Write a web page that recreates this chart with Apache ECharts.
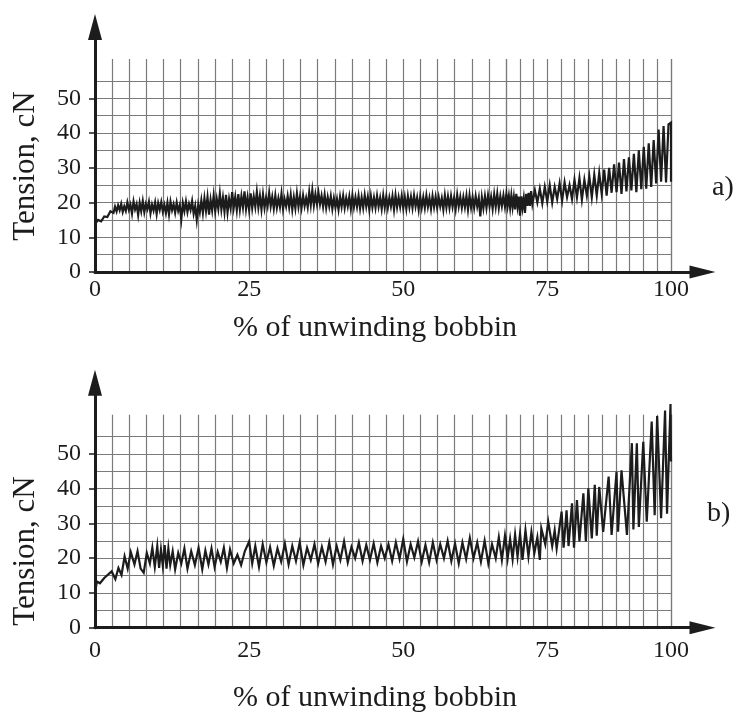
<!DOCTYPE html>
<html><head><meta charset="utf-8">
<script src="https://cdn.jsdelivr.net/npm/echarts@6/dist/echarts.min.js"></script>
<style>html,body{margin:0;padding:0;background:#fff}#c{width:735px;height:715px}</style>
</head><body><div id="c"></div>
<script>
// ---------- data ----------
const xTickLabels = [0, 25, 50, 75, 100];
const yTickLabels = [0, 10, 20, 30, 40, 50];
const panelLabels = ['a)', 'b)'];
const xTitle = '% of unwinding bobbin';
const yTitle = 'Tension, cN';

// [percent of unwinding bobbin, tension cN]  -- panel a)
const tensionA = [
[0,13.8],[0.5,15.0],[1,14.6],[1.5,16.0],[2,15.8],[2.5,17.5],
[3.0,17.0],[3.25,18.8],[3.5,17.4],[3.75,19.2],[4.0,17.8],[4.25,19.6],[4.5,17.3],[4.75,18.9],[5.0,17.6],[5.25,20.0],
[5.5,17.9],[5.75,19.4],[6.0,16.8],[6.25,20.3],[6.5,18.0],[6.75,19.5],[7.0,16.4],[7.25,19.9],[7.5,17.5],[7.75,20.4],
[8.0,17.2],[8.25,19.6],[8.5,18.1],[8.75,20.2],[9.0,16.9],[9.25,19.4],[9.5,17.7],[9.75,20.0],[10.0,16.7],[10.25,19.8],
[10.5,17.9],[10.75,20.1],[11.0,17.4],[11.25,19.3],[11.5,17.0],[11.75,19.9],[12.0,16.6],[12.25,20.2],[12.5,17.8],[12.75,19.5],
[13.0,17.1],[13.25,20.0],[13.5,17.6],[13.75,19.2],[14.0,15.2],[14.25,19.8],[14.5,17.5],[14.75,20.3],[15.0,17.3],[15.25,19.6],
[15.5,17.9],[15.75,20.4],[16.0,16.8],[16.25,19.0],[16.5,15.0],[16.75,19.4],[17.0,17.2],[17.25,20.6],[17.5,17.0],[17.75,21.2],
[18.0,17.6],[18.25,21.5],[18.5,16.5],[18.75,20.8],[19.0,17.8],[19.25,22.0],[19.5,17.5],[19.75,21.0],[20.0,18.2],[20.25,22.5],
[20.5,18.0],[20.75,21.4],[21.0,17.4],[21.25,22.2],[21.5,17.2],[21.75,21.0],[22.0,18.4],[22.25,23.0],[22.5,18.5],[22.75,21.6],
[23.0,17.8],[23.25,22.4],[23.5,18.0],[23.75,21.8],[24.0,18.6],[24.25,23.2],[24.5,18.2],[24.75,21.5],[25.0,17.9],[25.25,22.6],
[25.5,18.4],[25.75,21.7],[26.0,18.8],[26.25,23.0],[26.5,18.6],[26.75,21.9],[27.0,18.0],[27.25,22.3],[27.5,18.5],[27.75,21.4],
[28.0,19.0],[28.25,22.8],[28.5,18.9],[28.75,21.6],[29.0,18.3],[29.25,22.0],[29.5,18.5],[29.75,21.2],[30.0,18.7],[30.25,22.5],
[30.5,18.2],[30.75,21.0],[31.0,18.9],[31.25,21.8],[31.5,18.6],[31.75,22.2],[32.0,18.0],[32.25,21.5],[32.5,18.4],[32.75,22.6],
[33.0,18.8],[33.25,21.7],[33.5,18.5],[33.75,22.0],[34.0,19.0],[34.25,21.3],[34.5,18.7],[34.75,23.0],[35.0,19.3],[35.25,23.5],
[35.5,19.2],[35.75,22.4],[36.0,19.6],[36.25,22.8],[36.5,19.5],[36.75,21.9],[37.0,18.8],[37.25,22.2],[37.5,18.5],[37.75,21.5],
[38.0,18.9],[38.25,21.8],[38.5,18.2],[38.75,21.2],[39.0,18.6],[39.25,21.0],[39.5,18.0],[39.75,21.6],[40.0,18.8],[40.25,21.9],
[40.5,18.5],[40.75,21.3],[41.0,18.9],[41.25,21.7],[41.5,18.2],[41.75,22.0],[42.0,18.7],[42.25,21.5],[42.5,18.8],[42.75,21.9],
[43.0,18.3],[43.25,21.4],[43.5,18.5],[43.75,22.1],[44.0,18.9],[44.25,21.6],[44.5,18.0],[44.75,21.8],[45.0,18.6],[45.25,21.4],
[45.5,18.5],[45.75,21.9],[46.0,18.8],[46.25,21.3],[46.5,18.2],[46.75,22.0],[47.0,18.6],[47.25,21.7],[47.5,18.5],[47.75,21.4],
[48.0,18.9],[48.25,21.8],[48.5,18.0],[48.75,22.1],[49.0,18.7],[49.25,21.5],[49.5,18.8],[49.75,21.9],[50.0,18.4],[50.25,21.5],
[50.5,18.2],[50.75,21.8],[51.0,18.7],[51.25,21.6],[51.5,18.5],[51.75,22.0],[52.0,18.9],[52.25,21.4],[52.5,18.0],[52.75,21.7],
[53.0,18.6],[53.25,21.5],[53.5,18.5],[53.75,22.0],[54.0,18.8],[54.25,21.3],[54.5,18.2],[54.75,21.8],[55.0,18.7],[55.25,21.6],
[55.5,18.5],[55.75,21.5],[56.0,18.9],[56.25,21.2],[56.5,18.0],[56.75,22.0],[57.0,18.6],[57.25,21.7],[57.5,18.5],[57.75,21.8],
[58.0,18.8],[58.25,21.4],[58.5,18.2],[58.75,22.2],[59.0,18.9],[59.25,21.6],[59.5,18.5],[59.75,21.5],[60.0,18.7],[60.25,21.9],
[60.5,18.0],[60.75,22.0],[61.0,18.6],[61.25,21.5],[61.5,18.5],[61.75,21.8],[62.0,18.9],[62.25,21.3],[62.5,16.0],[62.75,21.5],
[63.0,18.4],[63.25,21.8],[63.5,18.5],[63.75,22.0],[64.0,18.9],[64.25,21.6],[64.5,18.2],[64.75,22.3],[65.0,18.8],[65.25,22.5],
[65.5,18.5],[65.75,21.8],[66.0,19.0],[66.25,22.0],[66.5,18.8],[66.75,22.3],[67.0,19.1],[67.25,21.8],[67.5,18.5],[67.75,22.0],
[68.0,18.7],[68.25,21.6],[68.5,18.0],[68.75,22.5],[69.0,18.9],[69.25,21.7],[69.5,16.2],[69.75,21.8],[70.0,18.5],[70.25,21.2],
[70.5,17.0],[70.75,22.5],[71.0,19.0],[71.25,22.8],[71.5,19.0],[71.75,23.3],
[72,19.6],[72.5,23.5],[73,20.0],[73.5,24.0],[74,19.8],[74.5,24.5],
[75,20.3],[75.5,25.0],[76,20.0],[76.5,24.5],[77,21.0],[77.5,25.5],[78,20.5],[78.5,25.8],[79,21.5],[79.5,25.0],
[80,21.0],[80.5,26.5],[81,21.5],[81.5,27.0],[82,20.8],[82.5,26.5],[83,22.0],[83.5,27.5],[84,21.5],[84.5,28.0],
[85,22.0],[85.5,28.5],[86,22.5],[86.5,29.5],[87,22.0],[87.5,30.0],[88,22.8],[88.5,31.0],[89,23.0],[89.5,31.5],
[90,22.5],[90.5,32.5],[91,23.2],[91.5,33.0],[92,23.5],[92.5,34.0],[93,23.0],[93.5,35.0],[94,23.8],[94.5,36.0],
[95,24.0],[95.5,37.0],[96,24.5],[96.5,38.0],[97,25.5],[97.5,41.0],[98,26.0],[98.5,42.0],[99,25.8],[99.5,42.5],
[100,43.0],[100,26.0]
];

// panel b)
const tensionB = [
[0,10.0],[0.3,13.3],[0.8,12.8],[1.5,14.3],[2.7,16.2],[3.3,14.0],[3.8,17.2],[4.3,15.2],[4.8,20.5],[5.3,17.0],
[5.8,21.8],[6.4,18.2],[6.9,22.0],[7.4,17.0],[7.9,15.8],[8.4,21.5],[8.9,18.5],[9.3,23.0],[9.7,17.5],[10.1,23.5],
[10.4,17.2],[10.7,22.5],[11.0,17.8],[11.3,23.8],[11.6,17.0],[11.9,22.8],[12.2,18.0],[12.6,22.0],[13.0,16.8],[13.5,21.5],
[14.0,18.5],[14.5,22.8],[15.0,17.0],[15.6,22.0],[16.2,18.0],[16.8,23.0],[17.4,16.8],[17.9,22.2],[18.4,18.2],[18.9,22.8],
[19.4,17.5],[19.9,21.8],[20.4,19.0],[20.9,23.0],[21.4,17.2],[21.9,22.5],[22.5,18.5],[23.1,21.0],[23.7,18.0],[24.3,22.0],
[25.0,24.8],[25.5,18.5],[26.0,23.5],[26.6,17.5],[27.2,24.0],[27.8,18.8],[28.4,23.2],[29.0,17.8],[29.6,22.8],[30.2,19.0],
[30.8,24.2],[31.4,18.2],[32.0,23.5],[32.6,19.2],[33.2,24.5],[33.8,18.0],[34.4,23.0],[35.0,19.5],[35.6,24.0],[36.2,18.5],
[36.8,23.2],[37.4,19.0],[38.0,24.5],[38.6,18.2],[39.2,23.5],[39.8,19.5],[40.4,24.8],[41.0,18.8],[41.6,23.2],[42.2,20.0],
[42.8,24.5],[43.4,19.2],[44.0,23.8],[44.6,19.5],[45.2,24.2],[45.8,18.8],[46.4,23.5],[47.0,20.0],[47.6,24.0],[48.2,19.2],
[48.8,24.5],[49.4,19.8],[50.0,25.5],[50.6,19.0],[51.2,24.0],[51.8,20.2],[52.4,24.8],[53.0,19.0],[53.6,23.8],[54.2,18.8],
[54.8,24.5],[55.4,19.5],[56.0,24.0],[56.6,20.0],[57.2,25.0],[57.8,19.2],[58.4,24.2],[59.0,18.5],[59.6,24.5],[60.2,19.8],
[60.8,25.8],[61.4,20.0],[62.0,24.5],[62.6,19.0],[63.2,25.0],[63.8,18.5],[64.4,24.0],[65.0,20.0],[65.5,26.0],[66.0,19.5],
[66.5,26.5],[67.0,20.0],[67.5,25.5],[68.0,19.8],[68.5,26.8],[69.0,20.5],[69.5,27.0],[70.0,19.5],[70.6,28.0],[71.2,20.5],
[71.8,27.5],[72.4,21.5],[73.0,26.0],[73.5,19.5],[73.8,28.6],[74.6,24.0],[75.2,30.5],[76.0,23.5],[76.5,28.0],[76.9,22.8],
[77.9,33.4],[78.3,23.0],[78.9,33.8],[79.3,23.5],[80.0,35.8],[80.4,23.0],[81.0,36.7],[81.5,24.8],[82.3,38.7],[82.8,24.8],
[83.3,40.1],[84.0,25.7],[84.6,41.1],[85.0,26.5],[85.5,40.5],[86.3,27.6],[87.4,43.5],[88.0,26.7],[89.0,44.9],[89.3,27.6],
[90.0,45.3],[91.1,26.7],[92.1,53.1],[92.4,28.3],[93.1,53.1],[93.5,29.0],[94.4,53.5],[95.1,30.5],[96.1,59.3],[96.7,32.4],
[97.2,60.9],[98.0,31.5],[98.8,62.5],[99.2,32.8],[99.9,64.4],[100,47.8]
];

// ---------- layout ----------
const FONT = '"Liberation Serif","DejaVu Serif","Times New Roman",serif';
const INK = '#1c1c1c';
const GRIDC = '#7a7a7a';
const PX_PER_CN = 3.475;
const LEFT = 95, SEAM_X = 506, END_X = 671, ARROW_END = 702.5;
const SEAM = 200 / 3, STEP = 25 / 9;
const VMAX = 61.3, HMAX = 55, DMAX = 70.5;

const panels = [
  { base: 272, data: tensionA, label: panelLabels[0], lx: 712, ly: 188, ty: 166, xt: 328, lm: 6 },
  { base: 627.7, data: tensionB, label: panelLabels[1], lx: 707, ly: 514, ty: 551, xt: 698, lm: 11 }
];

const grid = [], xAxis = [], yAxis = [], series = [], graphic = [];
const hidden = { show: false };

panels.forEach((p) => {
  const g0 = grid.length;
  // D: axis lines with arrows, y labels
  grid.push({ left: LEFT, width: ARROW_END - LEFT, top: p.base - DMAX * PX_PER_CN, height: DMAX * PX_PER_CN });
  xAxis.push({ gridIndex: g0, type: 'value', min: 0, max: 1, z: 5,
    axisLine: { show: true, lineStyle: { color: INK, width: 3 }, symbol: ['none', 'triangle'], symbolSize: [13, 26] },
    axisTick: hidden, axisLabel: hidden, splitLine: hidden });
  yAxis.push({ gridIndex: g0, type: 'value', min: 0, max: DMAX, z: 5,
    axisLine: { show: true, lineStyle: { color: INK, width: 3 }, symbol: ['none', 'triangle'], symbolSize: [14, 26] },
    axisTick: { show: true, length: 6, customValues: yTickLabels, lineStyle: { color: INK, width: 1.5 } },
    axisLabel: { customValues: yTickLabels, margin: 14, fontSize: 24, fontFamily: FONT, color: INK },
    splitLine: hidden });
  // H: horizontal grid lines
  grid.push({ left: LEFT, width: END_X - LEFT, top: p.base - HMAX * PX_PER_CN, height: HMAX * PX_PER_CN });
  xAxis.push({ gridIndex: g0 + 1, type: 'value', min: 0, max: 1, show: false });
  yAxis.push({ gridIndex: g0 + 1, type: 'value', min: 0, max: HMAX, interval: 5, z: 0,
    axisLine: hidden, axisTick: hidden, axisLabel: hidden,
    splitLine: { show: true, lineStyle: { color: GRIDC, width: 1.2 } } });
  // A and B: data + vertical grid lines
  const parts = [
    { left: LEFT, width: SEAM_X - LEFT, min: 0, max: SEAM, labels: xTickLabels.filter(v => v <= SEAM) },
    { left: SEAM_X, width: END_X - SEAM_X, min: SEAM, max: 100, labels: xTickLabels.filter(v => v > SEAM) }
  ];
  parts.forEach((pt, k) => {
    const gi = grid.length;
    grid.push({ left: pt.left, width: pt.width, top: p.base - VMAX * PX_PER_CN, height: VMAX * PX_PER_CN });
    xAxis.push({ gridIndex: gi, type: 'value', min: pt.min, max: pt.max, interval: STEP, z: 0,
      axisLine: hidden, axisTick: hidden,
      axisLabel: { customValues: pt.labels, margin: p.lm, fontSize: 24, fontFamily: FONT, color: INK },
      splitLine: { show: true, lineStyle: { color: GRIDC, width: 1.2 } } });
    yAxis.push({ gridIndex: gi, type: 'value', min: 0, max: VMAX, show: false, splitLine: hidden });
    const d = p.data;
    const pts = [];
    d.forEach((v, j) => {
      const inside = k === 0 ? v[0] <= SEAM : v[0] >= SEAM;
      const nb = k === 0 ? (j > 0 && d[j - 1][0] <= SEAM && v[0] > SEAM)
                         : (j + 1 < d.length && d[j + 1][0] >= SEAM && v[0] < SEAM);
      if (inside || nb) pts.push(v);
    });
    series.push({ type: 'line', xAxisIndex: gi, yAxisIndex: gi, data: pts, symbol: 'none',
      clip: k === 0, z: 3, animation: false,
      lineStyle: { color: INK, width: 2.2, join: 'miter' } });
  });

  graphic.push({ type: 'text', x: 26, y: p.ty, rotation: Math.PI / 2,
    style: { text: yTitle, font: '31px ' + FONT, fill: INK, textAlign: 'center', textVerticalAlign: 'middle', align: 'center', verticalAlign: 'middle' } });
  graphic.push({ type: 'text', x: 375, y: p.xt,
    style: { text: xTitle, font: '30px ' + FONT, fill: INK, textAlign: 'center', textVerticalAlign: 'middle', align: 'center', verticalAlign: 'middle' } });
  graphic.push({ type: 'text', x: p.lx, y: p.ly,
    style: { text: p.label, font: '28px ' + FONT, fill: INK, textAlign: 'left', textVerticalAlign: 'middle', align: 'left', verticalAlign: 'middle' } });
});

const chart = echarts.init(document.getElementById('c'), null, { renderer: 'canvas' });
chart.setOption({ backgroundColor: '#fff', animation: false, grid, xAxis, yAxis, series, graphic });
</script>
</body></html>
